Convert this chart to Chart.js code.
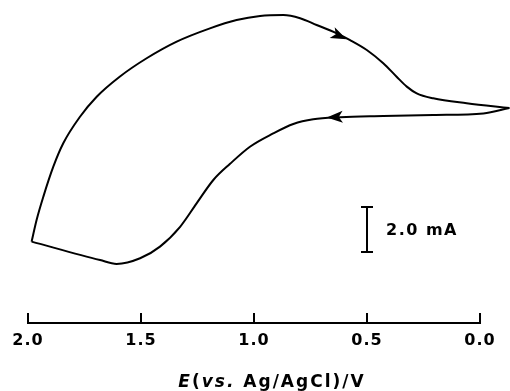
<!DOCTYPE html>
<html>
<head>
<meta charset="utf-8">
<script src="https://cdn.jsdelivr.net/npm/chart.js@4.4.0/dist/chart.umd.min.js"></script>
<style>
  html, body { margin: 0; padding: 0; background: #fff; }
  #wrap { width: 510px; height: 391px; }
</style>
</head>
<body>
<div id="wrap"><canvas id="cv"></canvas></div>
<script>
// forward sweep, upper branch (E in V, I in mA, zero taken at the vertex)
const fwdE = [1.984, 1.962, 1.932, 1.888, 1.844, 1.770, 1.696, 1.593, 1.475, 1.342, 1.195, 1.077, 0.973, 0.870, 0.796, 0.723, 0.634, 0.575, 0.501, 0.428, 0.369, 0.324, 0.280, 0.207, 0.059, -0.13];
const fwdI = [-5.94, -4.98, -3.94, -2.61, -1.57, -0.39, 0.50, 1.40, 2.21, 2.95, 3.54, 3.91, 4.09, 4.13, 3.99, 3.69, 3.32, 3.02, 2.58, 1.99, 1.39, 0.95, 0.65, 0.43, 0.21, 0];

// reverse sweep, lower branch
const revE = [-0.13, -0.015, 0.207, 0.428, 0.619, 0.738, 0.826, 0.915, 1.018, 1.106, 1.180, 1.254, 1.327, 1.416, 1.504, 1.608, 1.681, 1.984];
const revI = [0, -0.24, -0.31, -0.36, -0.41, -0.50, -0.71, -1.13, -1.72, -2.48, -3.20, -4.24, -5.28, -6.16, -6.68, -6.93, -6.76, -5.94];

const tickValues = [2.0, 1.5, 1.0, 0.5, 0.0];
const tickLabels = ["2.0", "1.5", "1.0", "0.5", "0.0"];

// scale bar: 2.0 mA drawn at E = 0.5 V
const barE = 0.5;
const barI = [-6.4, -4.4];
const barLabel = "2.0 mA";

// sweep direction arrows [tail, tip] in (E, I)
const arrowTail = [[0.650, 3.33], [0.597, -0.39]];
const arrowTip = [[0.590, 3.05], [0.678, -0.42]];

const titleParts = [
  { t: "E", italic: true },
  { t: "(", italic: false },
  { t: "vs.", italic: true },
  { t: " Ag/AgCl)/V", italic: false }
];

const ink = "#000";
const fam = "'DejaVu Sans', sans-serif";

function pts(xs, ys) {
  return xs.map((x, i) => ({ x, y: ys[i] }));
}

const decor = {
  id: "decor",
  beforeDraw(chart) {
    chart.ctx.letterSpacing = "1px";
  },
  afterDatasetsDraw(chart) {
    const { ctx, chartArea } = chart;
    const x = chart.scales.x;
    const y = chart.scales.y;
    ctx.save();
    ctx.strokeStyle = ink;
    ctx.fillStyle = ink;
    ctx.lineWidth = 2;

    // bottom axis, only between 2.0 and 0.0, ticks pointing up
    const ay = chartArea.bottom;
    ctx.beginPath();
    ctx.moveTo(x.getPixelForValue(tickValues[0]) - 1, ay);
    ctx.lineTo(x.getPixelForValue(tickValues[tickValues.length - 1]) + 1, ay);
    tickValues.forEach(v => {
      const px = x.getPixelForValue(v);
      ctx.moveTo(px, ay);
      ctx.lineTo(px, ay - 10);
    });
    ctx.stroke();

    // arrowheads
    arrowTip.forEach((tip, i) => {
      const tail = arrowTail[i];
      const x1 = x.getPixelForValue(tip[0]), y1 = y.getPixelForValue(tip[1]);
      const x0 = x.getPixelForValue(tail[0]), y0 = y.getPixelForValue(tail[1]);
      const a = Math.atan2(y1 - y0, x1 - x0);
      const L = 16, W = 6;
      ctx.save();
      ctx.translate(x1, y1);
      ctx.rotate(a);
      ctx.beginPath();
      ctx.moveTo(0, 0);
      ctx.lineTo(-L, -W);
      ctx.lineTo(-L * 0.75, 0);
      ctx.lineTo(-L, W);
      ctx.closePath();
      ctx.fill();
      ctx.restore();
    });

    // scale bar
    const bx = x.getPixelForValue(barE);
    const b0 = y.getPixelForValue(barI[0]);
    const b1 = y.getPixelForValue(barI[1]);
    ctx.beginPath();
    ctx.moveTo(bx, b0); ctx.lineTo(bx, b1);
    ctx.moveTo(bx - 6, b0); ctx.lineTo(bx + 6, b0);
    ctx.moveTo(bx - 6, b1); ctx.lineTo(bx + 6, b1);
    ctx.stroke();
    ctx.letterSpacing = "1.5px";
    ctx.font = "bold 16px " + fam;
    ctx.textBaseline = "middle";
    ctx.textAlign = "left";
    ctx.fillText(barLabel, bx + 19, (b0 + b1) / 2 + 1);

    // axis title with italic E and vs.
    ctx.letterSpacing = "2px";
    let w = 0;
    titleParts.forEach(p => {
      ctx.font = (p.italic ? "italic " : "") + "bold 17px " + fam;
      p.w = ctx.measureText(p.t).width;
      w += p.w;
    });
    let tx = (chartArea.left + chartArea.right) / 2 - w / 2 + 3;
    ctx.textBaseline = "alphabetic";
    titleParts.forEach(p => {
      ctx.font = (p.italic ? "italic " : "") + "bold 17px " + fam;
      ctx.fillText(p.t, tx, 387);
      tx += p.w;
    });
    ctx.restore();
  }
};

const lineStyle = {
  borderColor: ink,
  borderWidth: 2,
  pointRadius: 0,
  cubicInterpolationMode: "monotone",
  fill: false
};

new Chart(document.getElementById("cv"), {
  type: "line",
  data: {
    datasets: [
      Object.assign({ label: "forward", data: pts(fwdE, fwdI) }, lineStyle),
      Object.assign({ label: "reverse", data: pts(revE, revI) }, lineStyle)
    ]
  },
  options: {
    responsive: true,
    maintainAspectRatio: false,
    animation: false,
    layout: { padding: { left: 28, right: 0, top: 0, bottom: 0 } },
    plugins: { legend: { display: false }, tooltip: { enabled: false } },
    scales: {
      x: {
        type: "linear",
        reverse: true,
        min: -0.1327,
        max: 2.0,
        grid: { display: false, drawTicks: false },
        border: { display: false },
        afterBuildTicks: s => { s.ticks = tickValues.map(v => ({ value: v })); },
        afterFit: s => { s.height = 68; },
        ticks: {
          autoSkip: false,
          maxRotation: 0,
          padding: 8,
          color: ink,
          font: { family: fam, size: 16, weight: "bold" },
          callback: v => tickLabels[tickValues.indexOf(v)]
        }
      },
      y: {
        type: "linear",
        display: false,
        min: -9.556,
        max: 4.8
      }
    }
  },
  plugins: [decor]
});
</script>
</body>
</html>
